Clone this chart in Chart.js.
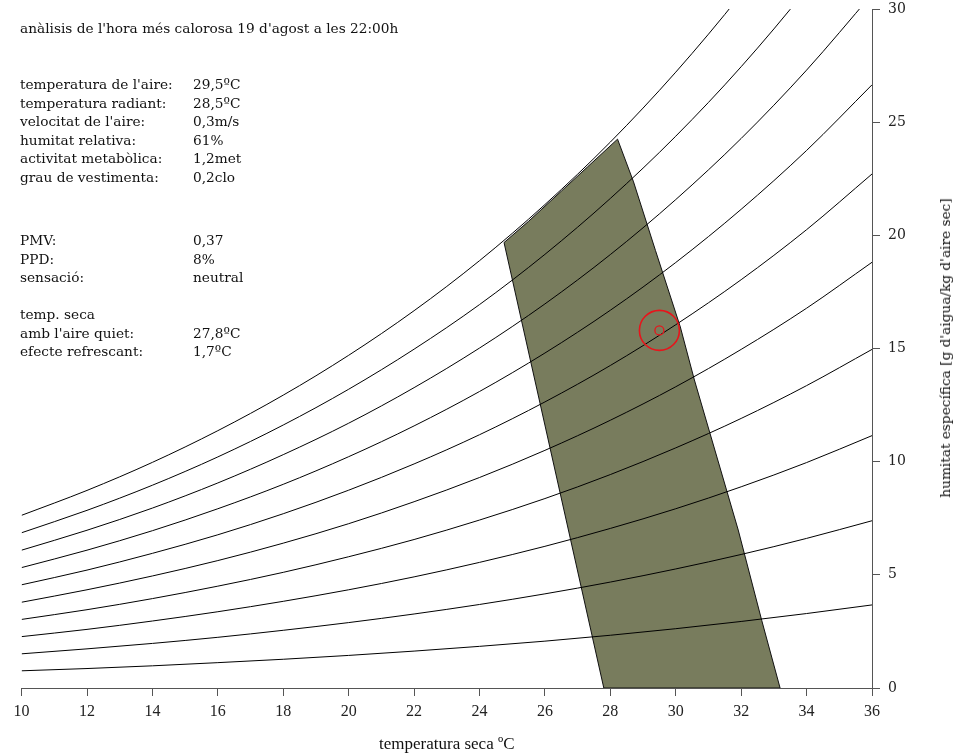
<!DOCTYPE html>
<html>
<head>
<meta charset="utf-8">
<script src="https://cdn.jsdelivr.net/npm/chart.js@4.4.0/dist/chart.umd.min.js"></script>
<style>
    html, body { margin: 0; padding: 0; background: #fff; }
    #wrap { position: relative; width: 959px; height: 755px; }
    #chart { position: absolute; left: 0; top: 0; }
    .txt { position: absolute; font-family: 'DejaVu Serif', serif; font-size: 13.7px; color: #111; white-space: nowrap; line-height: 18.6px; }
    .row { position: relative; height: 18.6px; }
    .row .v { position: absolute; left: 173px; }
    #ytitle { position: absolute; left: 945px; top: 348px; font-family: 'DejaVu Serif', serif; font-size: 13.7px; color: #111;
              white-space: nowrap; transform: translate(-50%, -50%) rotate(-90deg); }
</style>
</head>
<body>
<div id="wrap">
    <canvas id="chart" width="959" height="755"></canvas>

    <div class="txt" style="left:20px; top:19px;">anàlisis de l'hora més calorosa 19 d'agost a les 22:00h</div>

    <div class="txt" style="left:20px; top:75px;">
        <div class="row">temperatura de l'aire:<span class="v">29,5ºC</span></div>
        <div class="row">temperatura radiant:<span class="v">28,5ºC</span></div>
        <div class="row">velocitat de l'aire:<span class="v">0,3m/s</span></div>
        <div class="row">humitat relativa:<span class="v">61%</span></div>
        <div class="row">activitat metabòlica:<span class="v">1,2met</span></div>
        <div class="row">grau de vestimenta:<span class="v">0,2clo</span></div>
    </div>

    <div class="txt" style="left:20px; top:231px;">
        <div class="row">PMV:<span class="v">0,37</span></div>
        <div class="row">PPD:<span class="v">8%</span></div>
        <div class="row">sensació:<span class="v">neutral</span></div>
    </div>

    <div class="txt" style="left:20px; top:305px;">
        <div class="row">temp. seca</div>
        <div class="row">amb l'aire quiet:<span class="v">27,8ºC</span></div>
        <div class="row">efecte refrescant:<span class="v">1,7ºC</span></div>
    </div>

    <div id="ytitle">humitat específica [g d'aigua/kg d'aire sec]</div>
</div>

<script>
// temperatura seca (ºC) on es llegeixen les corbes
const temperatures = [10, 12, 14, 16, 18, 20, 22, 24, 26, 28, 30, 32, 34, 36];

// humitat específica (g/kg) per a cada corba d'humitat relativa
const rh10  = [0.76, 0.86, 0.98, 1.12, 1.27, 1.44, 1.63, 1.84, 2.07, 2.33, 2.62, 2.94, 3.29, 3.67];
const rh20  = [1.51, 1.73, 1.97, 2.24, 2.55, 2.89, 3.27, 3.69, 4.16, 4.68, 5.26, 5.90, 6.61, 7.39];
const rh30  = [2.27, 2.59, 2.96, 3.37, 3.83, 4.34, 4.91, 5.55, 6.26, 7.05, 7.92, 8.89, 9.96, 11.15];
const rh40  = [3.03, 3.46, 3.95, 4.50, 5.11, 5.80, 6.56, 7.42, 8.37, 9.43, 10.61, 11.91, 13.36, 14.96];
const rh50  = [3.79, 4.34, 4.95, 5.63, 6.40, 7.26, 8.23, 9.30, 10.50, 11.83, 13.31, 14.96, 16.78, 18.81];
const rh60  = [4.56, 5.21, 5.95, 6.77, 7.70, 8.74, 9.90, 11.19, 12.64, 14.25, 16.05, 18.04, 20.25, 22.71];
const rh70  = [5.32, 6.09, 6.95, 7.92, 9.00, 10.22, 11.58, 13.10, 14.80, 16.69, 18.80, 21.15, 23.75, 26.65];
const rh80  = [6.09, 6.97, 7.95, 9.06, 10.31, 11.70, 13.27, 15.02, 16.97, 19.15, 21.58, 24.28, 27.30, 30.65];
const rh90  = [6.86, 7.85, 8.96, 10.21, 11.62, 13.20, 14.97, 16.94, 19.16, 21.63, 24.38, 27.45, 30.88, 34.69];
const rh100 = [7.63, 8.73, 9.97, 11.37, 12.94, 14.70, 16.67, 18.88, 21.36, 24.12, 27.21, 30.66, 34.50, 38.79];

// zona de confort (contorn tancat)
const comfortT = [24.75, 25.5, 26.5, 27.3, 28.22, 28.71, 29.38, 30.14, 30.57, 31.91, 32.63, 33.19, 27.8, 24.75];
const comfortW = [19.68, 20.62, 21.95, 23.02, 24.25, 22.36, 19.33, 15.95, 13.61, 6.98, 2.98, 0, 0, 19.68];

// punt analitzat
const pointT = [29.5];
const pointW = [15.8];

const rhCurves = [rh10, rh20, rh30, rh40, rh50, rh60, rh70, rh80, rh90, rh100];

const toXY = (xs, ys) => xs.map((x, i) => ({ x: x, y: ys[i] }));

const curveSets = rhCurves.map(vals => ({
    data: toXY(temperatures, vals),
    showLine: true,
    borderColor: '#000',
    borderWidth: 1,
    pointRadius: 0,
    cubicInterpolationMode: 'monotone',
    order: 2
}));

// el "30" de l'eix dret queda enganxat a la vora superior, com a l'original
const tightTop = {
    id: 'tightTop',
    afterLayout(chart) {
        const area = chart.chartArea;
        const y = chart.scales.y;
        const shift = area.top - 9;
        if (shift > 0) {
            area.top -= shift;
            area.height += shift;
            y.top -= shift;
            y.height += shift;
            y.configure();
        }
    }
};

new Chart(document.getElementById('chart').getContext('2d'), {
    type: 'scatter',
    data: {
        datasets: [
            {
                data: toXY(pointT, pointW),
                pointRadius: 20,
                pointBorderColor: '#e8141b',
                pointBackgroundColor: 'rgba(0,0,0,0)',
                pointBorderWidth: 1.6,
                order: 0
            },
            {
                data: toXY(pointT, pointW),
                pointRadius: 4.5,
                pointBorderColor: '#e8141b',
                pointBackgroundColor: 'rgba(0,0,0,0)',
                pointBorderWidth: 1.3,
                order: 1
            },
            ...curveSets,
            {
                data: toXY(comfortT, comfortW),
                showLine: true,
                fill: 'shape',
                backgroundColor: '#787c5d',
                borderColor: '#111',
                borderWidth: 1,
                pointRadius: 0,
                tension: 0,
                order: 3
            }
        ]
    },
    plugins: [tightTop],
    options: {
        responsive: false,
        animation: false,
        events: [],
        layout: { padding: { left: 20, top: 9, right: 0, bottom: 0 } },
        plugins: {
            legend: { display: false },
            tooltip: { enabled: false }
        },
        scales: {
            x: {
                type: 'linear',
                min: 10,
                max: 36,
                afterFit: s => { s.height = 67; },
                ticks: { stepSize: 2, color: '#222', padding: 6, font: { family: 'Liberation Serif', size: 16 } },
                grid: { drawOnChartArea: false, tickLength: 8, color: '#555' },
                border: { color: '#555', width: 1 },
                title: {
                    display: true,
                    text: 'temperatura seca ºC',
                    color: '#111',
                    font: { family: 'Liberation Serif', size: 17 },
                    padding: { top: 10, bottom: 0 }
                }
            },
            y: {
                type: 'linear',
                position: 'right',
                min: 0,
                max: 30,
                afterFit: s => { s.width = 87; },
                ticks: { stepSize: 5, color: '#222', padding: 8, font: { family: 'DejaVu Serif', size: 14 } },
                grid: { drawOnChartArea: false, tickLength: 8, color: '#555' },
                border: { color: '#555', width: 1 }
            }
        }
    }
});
</script>
</body>
</html>
